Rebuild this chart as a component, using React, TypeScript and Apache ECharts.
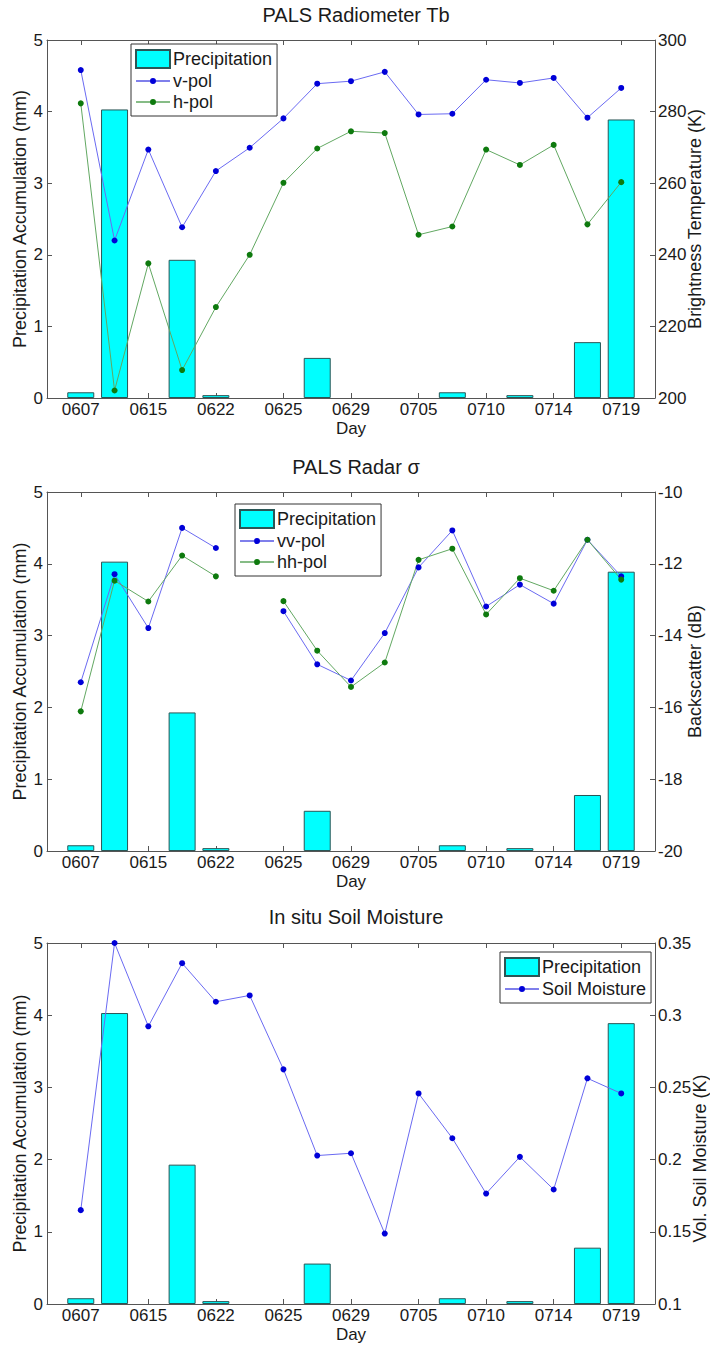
import React, { useEffect, useRef } from "react";
import * as echarts from "echarts";

// ---------- data ----------
const days = ["0607", "0611", "0615", "0619", "0622", "0624", "0625", "0627", "0629", "0702", "0705", "0707", "0710", "0712", "0714", "0716", "0719"];
const labeledDayIdx = [0, 2, 4, 6, 8, 10, 12, 14, 16];

const precipitation = [0.08, 4.03, 0, 1.93, 0.04, 0, 0, 0.56, 0, 0, 0, 0.08, 0, 0.04, 0, 0.78, 3.89];

const vPol = [291.6, 244.0, 269.4, 247.7, 263.4, 269.9, 278.1, 287.8, 288.5, 291.1, 279.2, 279.4, 288.9, 288.0, 289.4, 278.3, 286.6];
const hPol = [282.3, 202.1, 237.6, 207.8, 225.4, 240.0, 260.1, 269.7, 274.5, 274.0, 245.6, 247.9, 269.4, 265.1, 270.7, 248.5, 260.3];

const vvPol = [-15.3, -12.29, -13.79, -11.0, -11.56, null, -13.32, -14.8, -15.25, -13.93, -12.1, -11.07, -13.19, -12.58, -13.11, -11.33, -12.35];
const hhPol = [-16.11, -12.47, -13.05, -11.77, -12.35, null, -13.04, -14.42, -15.43, -14.75, -11.89, -11.58, -13.41, -12.4, -12.75, -11.33, -12.44];

const soilMoisture = [0.165, 0.35, 0.2923, 0.336, 0.3093, 0.3137, 0.2625, 0.2028, 0.2044, 0.1488, 0.2458, 0.2148, 0.1765, 0.2019, 0.1793, 0.2563, 0.2458];

const titles = ["PALS Radiometer Tb", "PALS Radar σ", "In situ Soil Moisture"];
const leftAxisName = "Precipitation Accumulation (mm)";
const rightAxisNames = ["Brightness Temperature (K)", "Backscatter (dB)", "Vol. Soil Moisture (K)"];
const rightRanges = [
  { min: 200, max: 300, interval: 20 },
  { min: -20, max: -10, interval: 2 },
  { min: 0.1, max: 0.35, interval: 0.05 },
];

// ---------- styles ----------
const FONT = '"Liberation Sans", Arial, Helvetica, sans-serif';
const AXIS_COLOR = "#555";
const TEXT_COLOR = "#1a1a1a";
const BLUE_LINE = "#6a6af2";
const BLUE_DOT = "#0000d8";
const GREEN_LINE = "#62a862";
const GREEN_DOT = "#0e7a0e";

// legend icon for line series: thin line with a small dot, in a 34x18 box
const LINE_DOT_ICON =
  "path://M0,0h0.01v0.01h-0.01z M34,18h0.01v0.01h-0.01z M0,8.6h34v0.8h-34z M20,9a3,3 0 1,1 -6,0a3,3 0 1,1 6,0z";

const grids = [
  { left: 47, right: 55, top: 40, height: 358, outerBoundsMode: "none", containLabel: false },
  { left: 47, right: 55, top: 492, height: 359, outerBoundsMode: "none", containLabel: false },
  { left: 47, right: 55, top: 943, height: 361, outerBoundsMode: "none", containLabel: false },
];

function fmt(v: number) {
  return String(parseFloat(v.toFixed(2)));
}

export default function App() {
  const ref = useRef<HTMLDivElement>(null);

  useEffect(() => {
    document.body.style.margin = "0";
    if (!ref.current) return;
    const chart = echarts.init(ref.current, undefined, { renderer: "svg" });

    const xAxis: any[] = [];
    const yAxis: any[] = [];
    grids.forEach((_, g) => {
      const base = {
        type: "value",
        gridIndex: g,
        min: -1,
        max: 17,
        splitLine: { show: false },
        axisLine: { onZero: false, lineStyle: { color: AXIS_COLOR, width: 1 } },
      };
      xAxis.push({
        ...base,
        position: "bottom",
        name: "Day",
        nameLocation: "middle",
        nameGap: 22,
        nameMoveOverlap: false,
        nameTextStyle: { fontSize: 17, color: TEXT_COLOR, fontFamily: FONT },
        axisTick: { inside: true, length: 5, customValues: labeledDayIdx, lineStyle: { color: AXIS_COLOR } },
        axisLabel: {
          customValues: labeledDayIdx,
          formatter: (v: number) => days[Math.round(v)] ?? "",
          fontSize: 17,
          color: TEXT_COLOR,
          fontFamily: FONT,
          margin: 3,
        },
      });
      xAxis.push({
        ...base,
        position: "top",
        axisTick: { inside: true, length: 5, customValues: labeledDayIdx, lineStyle: { color: AXIS_COLOR } },
        axisLabel: { show: false },
      });
      yAxis.push({
        type: "value",
        gridIndex: g,
        position: "left",
        min: 0,
        max: 5,
        interval: 1,
        name: leftAxisName,
        nameLocation: "middle",
        nameGap: 18,
        nameMoveOverlap: false,
        nameTextStyle: { fontSize: 18, color: TEXT_COLOR, fontFamily: FONT },
        splitLine: { show: false },
        axisLine: { show: true, onZero: false, lineStyle: { color: AXIS_COLOR } },
        axisTick: { show: true, inside: true, length: 5, lineStyle: { color: AXIS_COLOR } },
        axisLabel: { fontSize: 17, color: TEXT_COLOR, fontFamily: FONT, margin: 4 },
      });
      const r = rightRanges[g];
      yAxis.push({
        type: "value",
        gridIndex: g,
        position: "right",
        min: r.min,
        max: r.max,
        interval: r.interval,
        name: rightAxisNames[g],
        nameLocation: "middle",
        nameGap: g === 2 ? 36 : 31,
        nameMoveOverlap: false,
        nameTextStyle: {
          fontSize: 18,
          color: TEXT_COLOR,
          fontFamily: FONT,
          padding: g === 2 ? [0, 70, 0, 0] : 0,
        },
        splitLine: { show: false },
        axisLine: { show: true, onZero: false, lineStyle: { color: AXIS_COLOR } },
        axisTick: { show: true, inside: true, length: 5, lineStyle: { color: AXIS_COLOR } },
        axisLabel: { fontSize: 17, color: TEXT_COLOR, fontFamily: FONT, margin: 3, formatter: fmt },
      });
    });

    const barData = precipitation.map((v, i) => (v > 0 ? [i, v] : [i, "-"]));
    const toPairs = (arr: (number | null)[]) => arr.map((v, i) => [i, v === null ? "-" : v]);

    const barSeries = (g: number) => ({
      type: "bar",
      name: "Precipitation",
      xAxisIndex: 2 * g,
      yAxisIndex: 2 * g,
      data: barData,
      barWidth: 27,
      itemStyle: { color: "#00ffff", borderColor: "#2a5656", borderWidth: 1 },
      z: 1,
    });
    const lineSeries = (g: number, name: string, arr: (number | null)[], line: string, dot: string) => ({
      type: "line",
      name,
      xAxisIndex: 2 * g,
      yAxisIndex: 2 * g + 1,
      data: toPairs(arr),
      connectNulls: false,
      symbol: "circle",
      symbolSize: 6,
      lineStyle: { color: line, width: 1 },
      itemStyle: { color: dot },
      z: 3,
    });

    const series = [
      barSeries(0),
      lineSeries(0, "v-pol", vPol, BLUE_LINE, BLUE_DOT),
      lineSeries(0, "h-pol", hPol, GREEN_LINE, GREEN_DOT),
      barSeries(1),
      lineSeries(1, "vv-pol", vvPol, BLUE_LINE, BLUE_DOT),
      lineSeries(1, "hh-pol", hhPol, GREEN_LINE, GREEN_DOT),
      barSeries(2),
      lineSeries(2, "Soil Moisture", soilMoisture, BLUE_LINE, BLUE_DOT),
    ];

    const legendBase = {
      orient: "vertical",
      itemWidth: 34,
      itemHeight: 18,
      itemGap: 3,
      padding: [5, 5, 5, 4],
      borderColor: "#333",
      borderWidth: 1,
      backgroundColor: "#fff",
      selectedMode: false,
      textStyle: { fontSize: 18, color: TEXT_COLOR, fontFamily: FONT, padding: [0, 0, 0, -2] },
    };
    const lineItem = (name: string) => ({ name, icon: LINE_DOT_ICON });
    const legend = [
      { ...legendBase, left: 131, top: 44, data: [{ name: "Precipitation", icon: "rect" }, lineItem("v-pol"), lineItem("h-pol")] },
      { ...legendBase, left: 235, top: 504, data: [{ name: "Precipitation", icon: "rect" }, lineItem("vv-pol"), lineItem("hh-pol")] },
      { ...legendBase, left: 500, top: 952, data: [{ name: "Precipitation", icon: "rect" }, lineItem("Soil Moisture")] },
    ];

    const titleTops = [0, 452, 902];
    const title = titles.map((t, g) => ({
      text: t,
      left: 351,
      top: titleTops[g],
      textAlign: "center",
      textStyle: { fontSize: 20, fontWeight: "normal", color: TEXT_COLOR, fontFamily: FONT },
    }));

    chart.setOption({
      animation: false,
      backgroundColor: "#fff",
      title,
      legend,
      grid: grids,
      xAxis,
      yAxis,
      series,
    });

    return () => chart.dispose();
  }, []);

  return <div ref={ref} style={{ width: 710, height: 1348 }} />;
}
